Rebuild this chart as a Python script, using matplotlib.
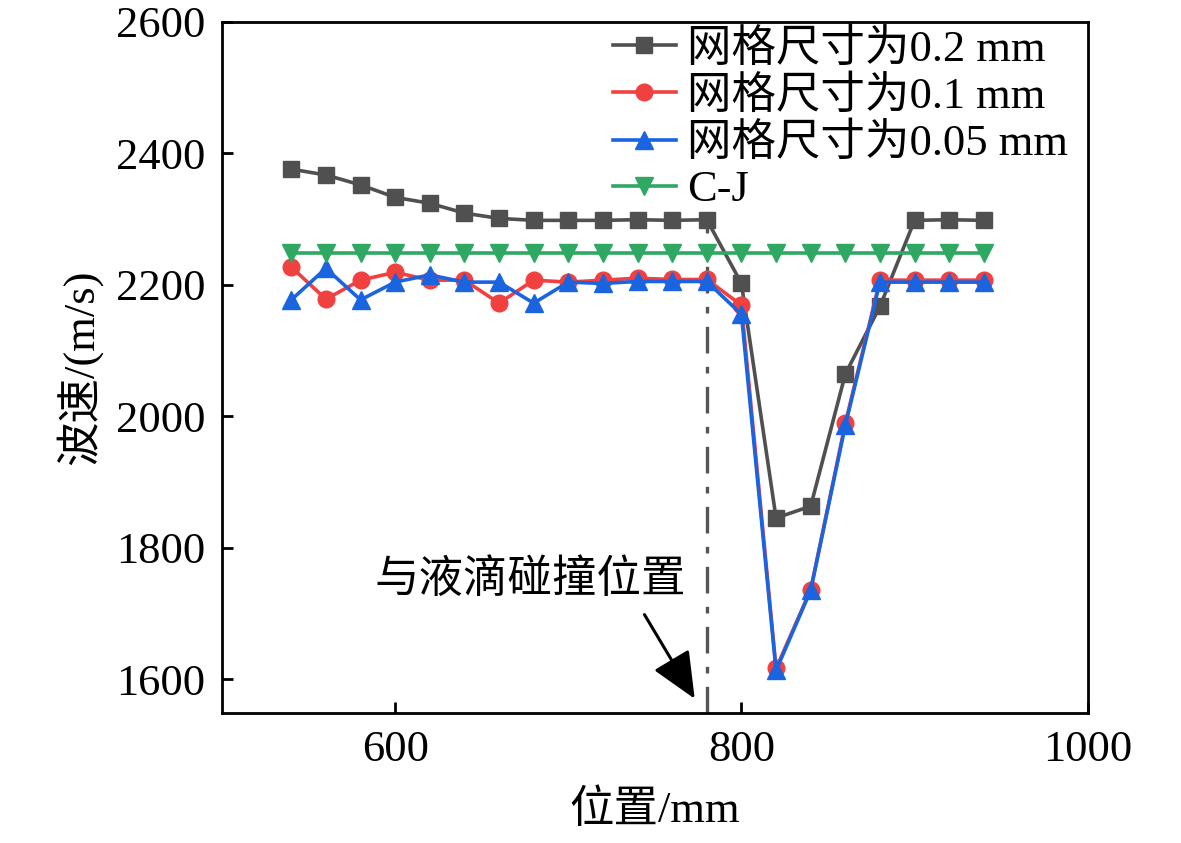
import matplotlib
matplotlib.use("Agg")
import matplotlib.pyplot as plt

# --- data ---
x = [540, 560, 580, 600, 620, 640, 660, 680, 700, 720, 740,
     760, 780, 800, 820, 840, 860, 880, 900, 920, 940]
v_02 = [2376, 2367, 2352, 2333, 2324, 2309, 2301, 2298, 2298, 2298, 2299,
        2298, 2299, 2202, 1845, 1863, 2064, 2167, 2298, 2299, 2298]
v_01 = [2227, 2178, 2207, 2219, 2207, 2207, 2172, 2207, 2204, 2207, 2210,
        2208, 2208, 2169, 1616, 1736, 1989, 2207, 2207, 2207, 2207]
v_005 = [2177, 2225, 2177, 2204, 2215, 2204, 2204, 2172, 2204, 2202, 2205,
         2205, 2205, 2155, 1613, 1735, 1986, 2204, 2204, 2204, 2204]
v_cj = [2248] * len(x)
labels = ['网格尺寸为0.2 mm', '网格尺寸为0.1 mm', '网格尺寸为0.05 mm', 'C-J']
collision_x = 780

plt.rcParams['font.family'] = ['Liberation Serif', 'Noto Sans CJK SC']
plt.rcParams['font.size'] = 32
plt.rcParams['axes.linewidth'] = 2

fig = plt.figure(figsize=(11.81, 8.43), dpi=100)
ax = fig.add_axes([0.188, 0.154, 0.733, 0.820])

ax.plot(x, v_02, color='#505050', marker='s', ms=12, lw=2.6, label=labels[0])
ax.plot(x, v_01, color='#f14040', marker='o', ms=12, lw=2.6, label=labels[1])
ax.plot(x, v_005, color='#1a64e0', marker='^', ms=13, lw=2.6, label=labels[2])
ax.plot(x, v_cj, color='#2ea862', marker='v', ms=13, lw=2.6, label=labels[3])

# collision position marker
ax.plot([collision_x, collision_x], [1548, v_02[x.index(collision_x)]],
        color='#555555', lw=2.4, ls=(0, (8, 4, 2, 4)), zorder=1)
ax.text(678, 1750, '与液滴碰撞位置', ha='center', va='center', fontsize=32)
ax.annotate('', xy=(773, 1570), xytext=(744, 1698),
            arrowprops=dict(arrowstyle='-|>,head_length=0.9,head_width=0.4',
                            color='black', lw=2.2, shrinkA=0, shrinkB=0))

ax.set_xlim(500, 1000)
ax.set_ylim(1548, 2600)
ax.set_xticks([600, 800, 1000])
ax.set_yticks([1600, 1800, 2000, 2200, 2400, 2600])
ax.tick_params(direction='in', length=8, width=2, pad=12)
ax.set_xlabel('位置/mm', labelpad=14)
ax.set_ylabel('波速/(m/s)', labelpad=10)

ax.legend(loc='upper right', frameon=False, fontsize=32, handlelength=1.4,
          handletextpad=0.25, labelspacing=0.13, borderaxespad=0.05,
          bbox_to_anchor=(1.0, 1.02))

fig.savefig('out.png', dpi=100)
